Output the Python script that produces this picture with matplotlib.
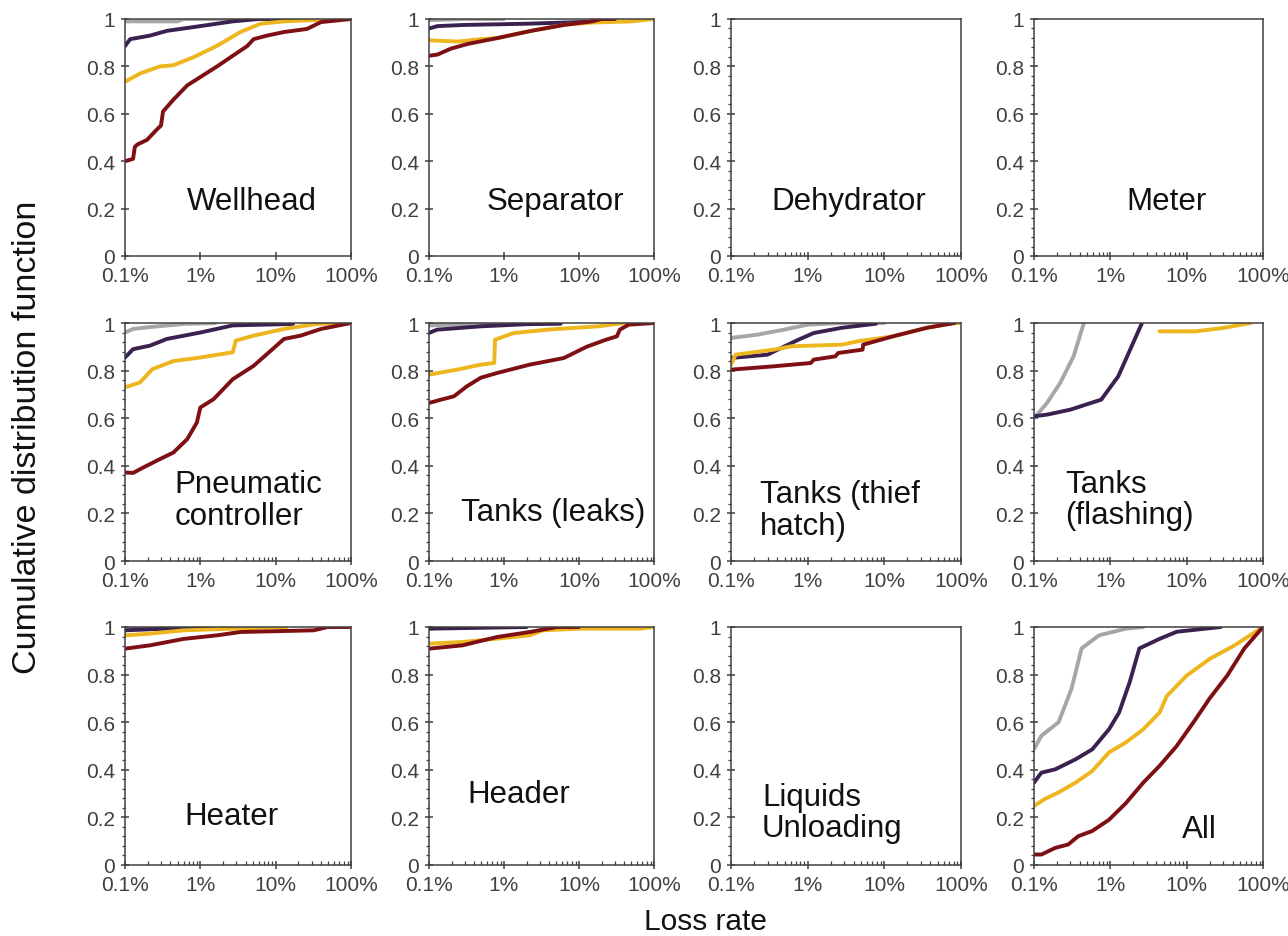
#######################################################
# imports

import numpy as np
import matplotlib
matplotlib.use('Agg')
import matplotlib.pyplot as plt
from matplotlib.ticker import FixedLocator, MultipleLocator, LogLocator, NullFormatter

plt.rcParams['font.family'] = ['Liberation Sans', 'DejaVu Sans']

#######################################################
# data: (loss rate in %, CDF) pairs

wellhead_grey = [(0.1,0.99),(0.5,0.99),(0.6,1.0),(25,1.0)]
wellhead_purple = [(0.1,0.886),(0.117,0.915),(0.215,0.93),(0.36,0.95),(1,0.97),(2.7,0.99),(6,1.0),(26,1.0)]
wellhead_gold = [(0.1,0.735),(0.158,0.77),(0.29,0.80),(0.44,0.805),(0.83,0.84),(1.67,0.887),(3.4,0.945),(6.3,0.98),(12.9,0.99),(30,0.995),(100,1.0)]
wellhead_red = [(0.1,0.40),(0.128,0.41),(0.135,0.46),(0.145,0.47),(0.196,0.49),(0.267,0.535),(0.3,0.55),(0.32,0.61),(0.44,0.66),(0.67,0.72),(1,0.755),(1.67,0.80),(2.7,0.845),(4.2,0.886),(5.1,0.915),(7.7,0.93),(12.9,0.945),(26,0.958),(40,0.987),(100,1.0)]

separator_grey = [(0.1,0.995),(0.3,1.0),(1.0,1.0)]
separator_purple = [(0.1,0.96),(0.13,0.97),(0.3,0.975),(2,0.98),(20,0.99),(25,1.0),(30,1.0)]
separator_gold = [(0.1,0.91),(0.245,0.905),(0.49,0.915),(0.83,0.92),(2.3,0.95),(6.3,0.975),(15,0.985),(50,0.99),(100,1.0)]
separator_red = [(0.1,0.845),(0.13,0.85),(0.196,0.875),(0.33,0.895),(0.83,0.92),(2.3,0.95),(6.3,0.975),(15,0.99),(20,1.0),(30,1.0)]

pneumatic_grey = [(0.1,0.96),(0.128,0.975),(0.2,0.982),(0.6,0.996),(1.6,1.0)]
pneumatic_purple = [(0.1,0.855),(0.128,0.89),(0.215,0.905),(0.36,0.933),(1,0.96),(2.7,0.99),(17,0.996)]
pneumatic_gold = [(0.1,0.73),(0.158,0.75),(0.23,0.806),(0.44,0.84),(1,0.855),(2.7,0.877),(2.95,0.926),(5.1,0.947),(12.9,0.975),(35,0.996),(100,1.0)]
pneumatic_red = [(0.1,0.372),(0.128,0.37),(0.175,0.393),(0.29,0.428),(0.44,0.456),(0.67,0.512),(0.9,0.582),(1.0,0.645),(1.5,0.68),(2.7,0.764),(5.1,0.82),(7.7,0.87),(12.9,0.933),(21.5,0.947),(40,0.975),(100,1.0)]

leaks_grey = [(0.1,0.99),(0.3,0.995),(3,1.0)]
leaks_purple = [(0.1,0.958),(0.128,0.972),(0.49,0.986),(2,0.995),(5.7,0.997)]
leaks_gold = [(0.1,0.783),(0.235,0.804),(0.49,0.825),(0.74,0.832),(0.76,0.93),(1.35,0.958),(3.8,0.972),(18,0.986),(40,1.0),(100,1.0)]
leaks_red = [(0.1,0.664),(0.145,0.678),(0.215,0.692),(0.32,0.734),(0.49,0.77),(0.81,0.79),(2.2,0.825),(6.3,0.853),(12.6,0.90),(23,0.93),(32,0.944),(35,0.972),(46,0.993),(100,1.0)]

thief_grey = [(0.1,0.937),(0.22,0.951),(0.49,0.972),(1,0.993),(2.8,1.0),(10,1.0)]
thief_purple = [(0.1,0.853),(0.3,0.867),(0.45,0.895),(0.76,0.93),(1.2,0.958),(2.8,0.98),(7.8,0.997)]
thief_gold = [(0.1,0.825),(0.115,0.867),(0.36,0.888),(0.61,0.902),(2.8,0.909),(4.5,0.923),(13,0.944),(36,0.98),(80,1.0),(100,1.0)]
thief_red = [(0.1,0.804),(0.36,0.818),(1.1,0.832),(1.2,0.846),(2.3,0.86),(2.5,0.874),(5.2,0.888),(5.3,0.909),(13,0.944),(36,0.98),(83,1.0)]

flashing_grey = [(0.1,0.60),(0.148,0.664),(0.22,0.748),(0.33,0.86),(0.45,1.0)]
flashing_purple = [(0.1,0.608),(0.148,0.615),(0.3,0.636),(0.76,0.678),(1.27,0.776),(1.9,0.902),(2.6,1.0)]
flashing_gold = [(4.4,0.965),(13,0.965),(30,0.979),(69,1.0)]
flashing_red = []

heater_grey = [(0.1,0.996),(0.6,0.996),(0.7,1.0)]
heater_purple = [(0.1,0.986),(0.6,0.996),(1.5,1.0)]
heater_gold = [(0.1,0.965),(0.215,0.972),(0.6,0.986),(2.7,0.993),(14,1.0)]
heater_red = [(0.1,0.909),(0.215,0.923),(0.6,0.95),(1.67,0.965),(3.4,0.979),(32,0.986),(49,1.0),(100,1.0)]

header_grey = [(0.1,0.993),(0.15,1.0)]
header_purple = [(0.1,0.993),(2,1.0)]
header_gold = [(0.1,0.93),(0.28,0.937),(0.81,0.951),(2.2,0.965),(3.3,0.986),(10,0.993),(65,0.993),(100,1.0)]
header_red = [(0.1,0.909),(0.28,0.923),(0.81,0.958),(2.2,0.979),(5.1,1.0),(10,1.0)]

all_grey = [(0.1,0.487),(0.125,0.543),(0.21,0.60),(0.31,0.74),(0.42,0.91),(0.71,0.965),(1.6,0.993),(2.7,1.0)]
all_purple = [(0.1,0.346),(0.125,0.388),(0.19,0.402),(0.35,0.444),(0.58,0.486),(0.96,0.57),(1.3,0.64),(1.8,0.77),(2.4,0.91),(4.4,0.95),(7.4,0.98),(28,1.0)]
all_gold = [(0.1,0.248),(0.138,0.277),(0.21,0.305),(0.35,0.346),(0.58,0.395),(0.96,0.473),(1.6,0.515),(2.7,0.57),(4.4,0.64),(5.5,0.71),(10,0.796),(20,0.866),(41,0.92),(100,1.0)]
all_red = [(0.1,0.044),(0.125,0.044),(0.19,0.072),(0.28,0.086),(0.38,0.121),(0.58,0.143),(0.96,0.19),(1.6,0.26),(2.7,0.346),(4.4,0.416),(7.4,0.50),(12.3,0.60),(20,0.70),(34,0.796),(57,0.91),(100,1.0)]

panel_labels = ['Wellhead', 'Separator', 'Dehydrator', 'Meter',
                'Pneumatic\ncontroller', 'Tanks (leaks)', 'Tanks (thief\nhatch)', 'Tanks\n(flashing)',
                'Heater', 'Header', 'Liquids\nUnloading', 'All']

x_ticks = [0.1, 1, 10, 100]
x_tick_labels = ['0.1%', '1%', '10%', '100%']
y_ticks = [0, 0.2, 0.4, 0.6, 0.8, 1.0]
y_tick_labels = ['0', '0.2', '0.4', '0.6', '0.8', '1']

#######################################################
# panel series, in drawing order grey, purple, gold, red

panel_series = [
    [wellhead_grey, wellhead_purple, wellhead_gold, wellhead_red],
    [separator_grey, separator_purple, separator_gold, separator_red],
    [[], [], [], []],
    [[], [], [], []],
    [pneumatic_grey, pneumatic_purple, pneumatic_gold, pneumatic_red],
    [leaks_grey, leaks_purple, leaks_gold, leaks_red],
    [thief_grey, thief_purple, thief_gold, thief_red],
    [flashing_grey, flashing_purple, flashing_gold, flashing_red],
    [heater_grey, heater_purple, heater_gold, heater_red],
    [header_grey, header_purple, header_gold, header_red],
    [[], [], [], []],
    [all_grey, all_purple, all_gold, all_red],
]
colors = ['#A6A6A6', '#3B2150', '#EDB51E', '#7E1014']

# label placement (axes fraction) and alignment
label_pos = [(0.56,0.23,'center'), (0.56,0.23,'center'), (0.51,0.23,'center'), (0.58,0.23,'center'),
             (0.22,0.256,'left'), (0.55,0.206,'center'), (0.126,0.214,'left'), (0.135,0.26,'left'),
             (0.47,0.206,'center'), (0.40,0.30,'center'), (0.135,0.22,'left'), (0.72,0.15,'center')]

#######################################################
# layout in pixels

W, H = 1288, 937
col_left = [125, 429, 731, 1034]
col_width = [226, 225, 230, 229]
row_top = [20, 324, 628]
row_bottom = [257, 562, 866]

fig = plt.figure(figsize=(W/100, H/100), dpi=100)

for i in range(12):
    r, c = i // 4, i % 4
    ax = fig.add_axes([col_left[c]/W, 1 - row_bottom[r]/H, col_width[c]/W, (row_bottom[r]-row_top[r])/H])
    for pts, col in zip(panel_series[i], colors):
        if len(pts) == 0:
            continue
        arr = np.array(pts)
        ax.plot(arr[:,0], arr[:,1], color=col, linewidth=2.8, solid_joinstyle='round',
                solid_capstyle='round')
    ax.set_xscale('log')
    ax.set_xlim(0.1, 100)
    ax.set_ylim(0, 1)
    ax.xaxis.set_major_locator(FixedLocator(x_ticks))
    ax.set_xticklabels(x_tick_labels)
    ax.yaxis.set_major_locator(FixedLocator(y_ticks))
    ax.set_yticklabels(y_tick_labels)
    if i in (0, 1):
        ax.xaxis.set_minor_locator(FixedLocator([]))
    else:
        ax.xaxis.set_minor_locator(LogLocator(base=10, subs=np.arange(2, 10)))
        ax.yaxis.set_minor_locator(MultipleLocator(0.04))
    ax.xaxis.set_minor_formatter(NullFormatter())
    ax.tick_params(which='major', direction='inout', length=6, width=1.1, color='#404040',
                   labelsize=15, labelcolor='#404040', pad=4)
    ax.tick_params(axis='x', which='minor', direction='in', length=3, width=0.9, color='#404040')
    ax.tick_params(axis='y', which='minor', direction='out', length=2.5, width=0.9, color='#404040')
    for sp in ax.spines.values():
        sp.set_color('#404040')
        sp.set_linewidth(1.1)
    lx, ly, ha = label_pos[i]
    ax.text(lx, ly, panel_labels[i], transform=ax.transAxes, ha=ha, va='center',
            fontsize=22.5, color='#111111', linespacing=1.05)

fig.text(28/W, 1 - 437/H, 'Cumulative distribution function', rotation=90,
         ha='center', va='center', fontsize=24.5, color='#111111')
fig.text(706/W, 1 - 922/H, 'Loss rate', ha='center', va='center', fontsize=21.5, color='#111111')

plt.savefig('out.png', dpi=100)
plt.close()
